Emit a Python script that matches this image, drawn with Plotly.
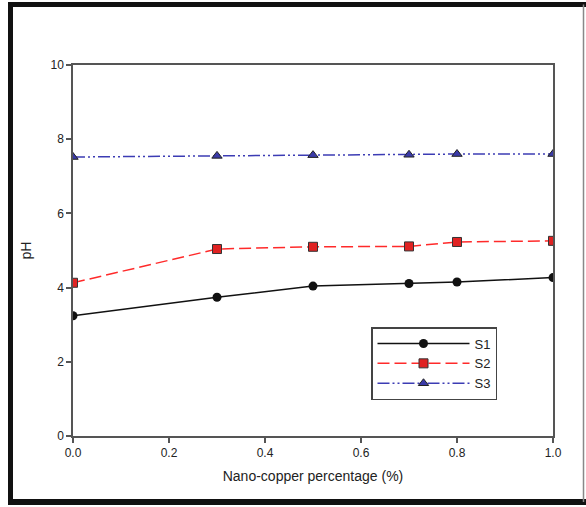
import plotly.graph_objects as go

x_vals = [0.0, 0.3, 0.5, 0.7, 0.8, 1.0]
s1 = [3.24, 3.74, 4.04, 4.11, 4.15, 4.27]
s2 = [4.13, 5.04, 5.10, 5.11, 5.23, 5.26]
s3 = [7.52, 7.55, 7.57, 7.58, 7.60, 7.60]
names = ["S1", "S2", "S3"]
x_ticks = [0.0, 0.2, 0.4, 0.6, 0.8, 1.0]
x_ticklabels = ["0.0", "0.2", "0.4", "0.6", "0.8", "1.0"]
y_ticks = [0, 2, 4, 6, 8, 10]

W, H = 586, 507
L, R, T, B = 73, 33, 65, 71
pw, ph = W - L - R, H - T - B

def px_to_paper_x(px):
    return (px - L) / pw

def px_to_paper_y(py):
    return (H - B - py) / ph

FONT = "Liberation Sans, Arial, sans-serif"

fig = go.Figure()
fig.add_trace(go.Scatter(
    x=x_vals, y=s1, name=names[0], mode="lines+markers",
    line=dict(color="#111111", width=1.5),
    marker=dict(symbol="circle", size=9, color="#111111"),
))
fig.add_trace(go.Scatter(
    x=x_vals, y=s2, name=names[1], mode="lines+markers",
    line=dict(color="#ff2a2a", width=1.5, dash="12px,5px"),
    marker=dict(symbol="square", size=9, color="#e02222", line=dict(color="#333333", width=1)),
))
fig.add_trace(go.Scatter(
    x=x_vals, y=s3, name=names[2], mode="lines+markers",
    line=dict(color="#3c3cb4", width=1.5, dash="12px,3px,2px,3px,2px,3px"),
    marker=dict(symbol="triangle-up", size=9, color="#3a3aa8", line=dict(color="#222222", width=1)),
))

axis_common = dict(
    showgrid=False, zeroline=False, showline=True, mirror=True,
    linecolor="#555555", linewidth=1.5,
    ticks="outside", ticklen=5, tickwidth=1.5, tickcolor="#555555",
    tickfont=dict(family=FONT, size=12, color="#222222"),
)

fig.update_xaxes(range=[0, 1.0], tickvals=x_ticks, ticktext=x_ticklabels,
                 title=dict(text="Nano-copper percentage (%)", standoff=12,
                            font=dict(family=FONT, size=14, color="#222222")),
                 **axis_common)
fig.update_yaxes(range=[0, 10], tickvals=y_ticks,
                 title=dict(text="pH", standoff=16,
                            font=dict(family=FONT, size=14, color="#222222")),
                 **axis_common)

# outer screenshot frame
shapes = [
    dict(type="line", xref="paper", yref="paper",
         x0=px_to_paper_x(10.5), x1=px_to_paper_x(10.5), y0=px_to_paper_y(2), y1=px_to_paper_y(505),
         line=dict(color="#111111", width=5)),
    dict(type="line", xref="paper", yref="paper",
         x0=px_to_paper_x(8), x1=px_to_paper_x(586), y0=px_to_paper_y(4.5), y1=px_to_paper_y(4.5),
         line=dict(color="#111111", width=5)),
    dict(type="line", xref="paper", yref="paper",
         x0=px_to_paper_x(8), x1=px_to_paper_x(586), y0=px_to_paper_y(502), y1=px_to_paper_y(502),
         line=dict(color="#111111", width=6)),
    dict(type="line", xref="paper", yref="paper",
         x0=px_to_paper_x(583.5), x1=px_to_paper_x(583.5), y0=px_to_paper_y(4.5), y1=px_to_paper_y(502),
         line=dict(color="#888888", width=1.5)),
]

fig.update_layout(
    width=W, height=H,
    margin=dict(l=L, r=R, t=T, b=B),
    paper_bgcolor="white", plot_bgcolor="white",
    showlegend=True,
    legend=dict(
        x=px_to_paper_x(371), y=px_to_paper_y(327), xanchor="left", yanchor="top",
        bordercolor="#444444", borderwidth=1.5, bgcolor="white",
        font=dict(family=FONT, size=13, color="#222222"),
        itemwidth=92, tracegroupgap=0,
    ),
    shapes=shapes,
)

fig.write_html("out.html")
